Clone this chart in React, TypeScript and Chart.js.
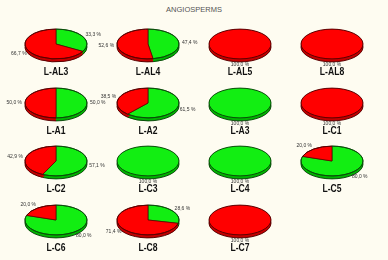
import React, { useEffect, useRef } from "react";
import { Chart, registerables } from "chart.js";

Chart.register(...registerables);

// ---------- data ----------
const chartTitle = "ANGIOSPERMS";
const siteNames = [
  "L-AL3", "L-AL4", "L-AL5", "L-AL8",
  "L-A1", "L-A2", "L-A3", "L-C1",
  "L-C2", "L-C3", "L-C4", "L-C5",
  "L-C6", "L-C8", "L-C7",
];
const sliceNames = ["green", "red"];
const greenShare = [33.3, 47.4, 0, 0, 50.0, 61.5, 100, 0, 57.1, 100, 100, 80.0, 80.0, 28.6, 0];
const redShare = [66.7, 52.6, 100, 100, 50.0, 38.5, 0, 100, 42.9, 0, 0, 20.0, 20.0, 71.4, 100];

// ---------- style ----------
const faceColors = ["#12ee12", "#ff0000"];
const sideColors = ["#00b400", "#c40000"];
const edgeColors = ["#0a4a0a", "#5a0000"];
const BG = "#fefcf1";
const COLS = 4;
const COL_X0 = 56;
const COL_STEP = 92;
const ROW_Y0 = 44;
const ROW_STEP = 58.5;
const CW = 120;
const CH = 100;
const CCX = 60;
const CCY = 40;
const R = 31;
const K = 0.48;
const DEPTH = 3;

const fmt = (v: number) => v.toFixed(1).replace(".", ",") + " %";

const tiltPlugin = (name: string) => ({
  id: "tilt3d",
  beforeDatasetsDraw(chart: any) {
    const ctx = chart.ctx as CanvasRenderingContext2D;
    const meta = chart.getDatasetMeta(0);
    const vals = chart.data.datasets[0].data as number[];
    let cx = CCX, cy = CCY;
    ctx.save();
    meta.data.forEach((a: any, k: number) => {
      if (!vals[k]) return;
      const p = a.getProps(["x", "y", "startAngle", "endAngle", "outerRadius"], true);
      cx = p.x; cy = p.y;
      ctx.fillStyle = sideColors[k];
      for (let d = DEPTH; d >= 0.5; d -= 0.5) {
        ctx.beginPath();
        ctx.moveTo(p.x, p.y + d);
        ctx.ellipse(p.x, p.y + d, p.outerRadius, p.outerRadius * K, 0, p.startAngle, p.endAngle);
        ctx.closePath();
        ctx.fill();
      }
    });
    meta.data.forEach((a: any, k: number) => {
      if (!vals[k]) return;
      const p = a.getProps(["x", "y", "startAngle", "endAngle", "outerRadius"], true);
      ctx.strokeStyle = edgeColors[k];
      ctx.lineWidth = 1;
      ctx.beginPath();
      ctx.ellipse(p.x, p.y + DEPTH, p.outerRadius, p.outerRadius * K, 0, p.startAngle, p.endAngle);
      ctx.stroke();
    });
    ctx.restore();
    ctx.save();
    ctx.translate(cx, cy);
    ctx.scale(1, K);
    ctx.translate(-cx, -cy);
  },
  afterDatasetsDraw(chart: any) {
    const ctx = chart.ctx as CanvasRenderingContext2D;
    ctx.restore();
    const meta = chart.getDatasetMeta(0);
    const vals = chart.data.datasets[0].data as number[];
    let cx = CCX, cy = CCY;
    ctx.save();
    meta.data.forEach((a: any, k: number) => {
      if (!vals[k]) return;
      const p = a.getProps(["x", "y", "startAngle", "endAngle", "outerRadius"], true);
      cx = p.x; cy = p.y;
      ctx.strokeStyle = edgeColors[k];
      ctx.lineWidth = 1;
      ctx.beginPath();
      ctx.ellipse(p.x, p.y, p.outerRadius, p.outerRadius * K, 0, p.startAngle, p.endAngle);
      ctx.stroke();
    });
    // percentage labels
    ctx.font = "5px Arial, 'Liberation Sans', sans-serif";
    ctx.fillStyle = "#333333";
    ctx.textBaseline = "middle";
    meta.data.forEach((a: any, k: number) => {
      if (!vals[k]) return;
      const p = a.getProps(["x", "y", "startAngle", "endAngle", "outerRadius"], true);
      const mid = (p.startAngle + p.endAngle) / 2;
      const c = Math.cos(mid);
      const s = Math.sin(mid);
      let lx = p.x + (p.outerRadius + 3) * c;
      let ly = p.y + (p.outerRadius * K + 4) * s;
      if (c > 0.15) ctx.textAlign = "left";
      else if (c < -0.15) ctx.textAlign = "right";
      else {
        ctx.textAlign = "center";
        ly = p.y + (p.outerRadius * K + 5.5) * Math.sign(s);
      }
      ctx.fillText(fmt(vals[k]), lx, ly);
    });
    // site name
    ctx.translate(cx, cy + 28);
    ctx.scale(0.86, 1);
    ctx.font = "bold 10px Arial, 'Liberation Sans', sans-serif";
    ctx.fillStyle = "#111111";
    ctx.textAlign = "center";
    ctx.textBaseline = "middle";
    ctx.fillText(name, 0, 0);
    ctx.restore();
  },
});

function PieCell({ i }: { i: number }) {
  const ref = useRef<HTMLCanvasElement>(null);
  useEffect(() => {
    const values = [greenShare[i], redShare[i]];
    const slices = values.filter((v) => v > 0).length;
    const chart = new Chart(ref.current as HTMLCanvasElement, {
      type: "pie",
      data: {
        labels: sliceNames,
        datasets: [
          {
            data: values,
            backgroundColor: faceColors,
            borderColor: edgeColors,
            borderWidth: (c: any) => (values[c.dataIndex] > 0 && slices > 1 ? 1 : 0),
            radius: R,
          } as any,
        ],
      },
      options: {
        responsive: false,
        animation: false,
        events: [],
        layout: { padding: { top: 0, bottom: CH - 2 * CCY, left: 0, right: 0 } },
        plugins: {
          legend: { display: false },
          tooltip: { enabled: false },
          title: { display: false },
        },
      } as any,
      plugins: [tiltPlugin(siteNames[i]) as any],
    });
    return () => chart.destroy();
  }, [i]);
  const col = i % COLS;
  const row = Math.floor(i / COLS);
  const left = COL_X0 + COL_STEP * col - CCX;
  const top = ROW_Y0 + ROW_STEP * row - CCY;
  return (
    <canvas
      ref={ref}
      width={CW}
      height={CH}
      style={{ position: "absolute", left, top, width: CW, height: CH }}
    />
  );
}

export default function App() {
  return (
    <div
      style={{
        position: "absolute",
        left: 0,
        top: 0,
        width: 388,
        height: 260,
        background: BG,
        overflow: "hidden",
      }}
    >
      <div
        style={{
          position: "absolute",
          left: 0,
          top: 5,
          width: 388,
          textAlign: "center",
          font: "7.5px Arial, 'Liberation Sans', sans-serif",
          lineHeight: "9px",
          color: "#555555",
        }}
      >
        {chartTitle}
      </div>
      {siteNames.map((_, i) => (
        <PieCell key={i} i={i} />
      ))}
    </div>
  );
}
